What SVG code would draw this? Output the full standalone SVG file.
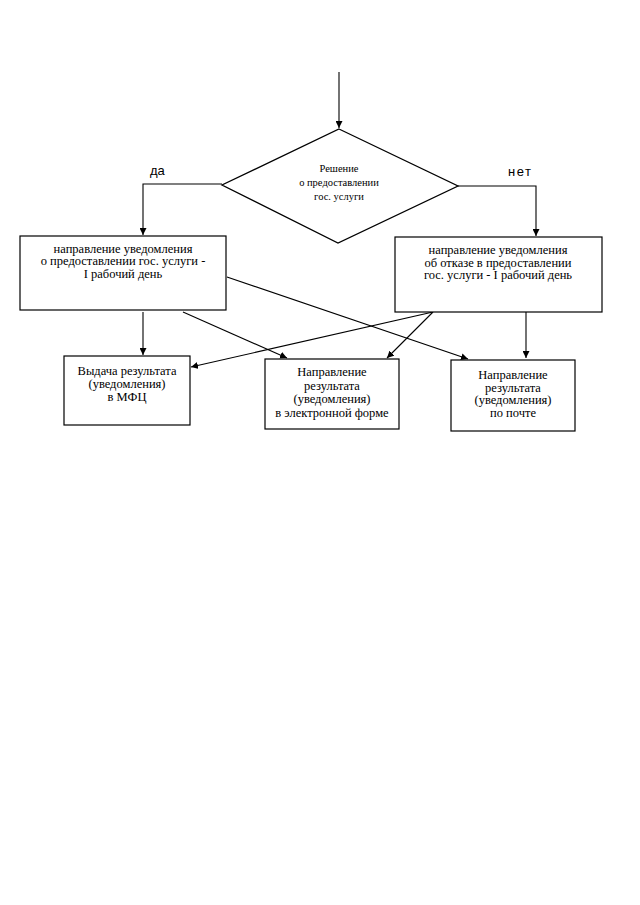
<svg xmlns="http://www.w3.org/2000/svg" width="640" height="905" viewBox="0 0 640 905">
<defs>
<marker id="ah" viewBox="0 0 10 10" refX="10" refY="5" markerWidth="7" markerHeight="7" markerUnits="userSpaceOnUse" orient="auto">
<path d="M0,0 L10,5 L0,10 z" fill="#000"/>
</marker>
</defs>
<style>
.box{fill:#fff;stroke:#000;stroke-width:1.2}
.ln{fill:none;stroke:#000;stroke-width:1.1}
.t{font-family:"Liberation Serif","Times New Roman",serif;font-size:12.5px;fill:#000;text-anchor:middle}
.ts{font-family:"Liberation Serif","Times New Roman",serif;font-size:10.5px;fill:#000;text-anchor:middle}
.lab{font-family:"Liberation Sans",Arial,sans-serif;font-size:13px;fill:#000}
</style>
<rect width="640" height="905" fill="#fff"/>
<g id="connectors">
<path class="ln" d="M339,72 L339,128" marker-end="url(#ah)"/>
<path class="ln" d="M222,184 L143,184 L143,235" marker-end="url(#ah)"/>
<path class="ln" d="M458,186 L536,186 L536,236" marker-end="url(#ah)" stroke-width="1.4"/>
<path class="ln" d="M143,312 L143,355" marker-end="url(#ah)"/>
<path class="ln" d="M183,312 L287,358" marker-end="url(#ah)"/>
<path class="ln" d="M227,277 L468,359" marker-end="url(#ah)"/>
<path class="ln" d="M433,312 L191,367" marker-end="url(#ah)"/>
<path class="ln" d="M433,312 L387,358" marker-end="url(#ah)"/>
<path class="ln" d="M526,312 L526,358" marker-end="url(#ah)"/>
<text class="lab" x="150" y="175">да</text>
<text class="lab" x="508" y="176" font-size="14" letter-spacing="1.5">нет</text>
</g>
<g id="decision">
<polygon points="339,129 458,186 338,243 222,185" fill="#fff" stroke="#000" stroke-width="1.3"/>
<text class="ts" x="339" y="172">Решение</text>
<text class="ts" x="339" y="186">о предоставлении</text>
<text class="ts" x="339" y="200">гос. услуги</text>
</g>
<g id="yes-box">
<rect class="box" x="20" y="236" width="206" height="74"/>
<text class="t" x="123" y="253">направление уведомления</text>
<text class="t" x="123" y="265.3">о предоставлении гос. услуги -</text>
<text class="t" x="123" y="277.5">I рабочий день</text>
</g>
<g id="no-box">
<rect class="box" x="395" y="237" width="207" height="75"/>
<text class="t" x="498" y="254">направление уведомления</text>
<text class="t" x="498" y="266.5">об отказе в предоставлении</text>
<text class="t" x="498" y="279">гос. услуги - I рабочий день</text>
</g>
<g id="mfc">
<rect class="box" x="64" y="356" width="126" height="69"/>
<text class="t" x="127" y="375">Выдача результата</text>
<text class="t" x="127" y="388">(уведомления)</text>
<text class="t" x="127" y="401">в МФЦ</text>
</g>
<g id="electronic">
<rect class="box" x="265" y="359" width="134" height="70"/>
<text class="t" x="332" y="376">Направление</text>
<text class="t" x="332" y="389.5">результата</text>
<text class="t" x="332" y="403">(уведомления)</text>
<text class="t" x="332" y="416.5">в электронной форме</text>
</g>
<g id="mail">
<rect class="box" x="451" y="360" width="124" height="71"/>
<text class="t" x="513" y="379">Направление</text>
<text class="t" x="513" y="391.5">результата</text>
<text class="t" x="513" y="404">(уведомления)</text>
<text class="t" x="513" y="416.5">по почте</text>
</g>
</svg>
